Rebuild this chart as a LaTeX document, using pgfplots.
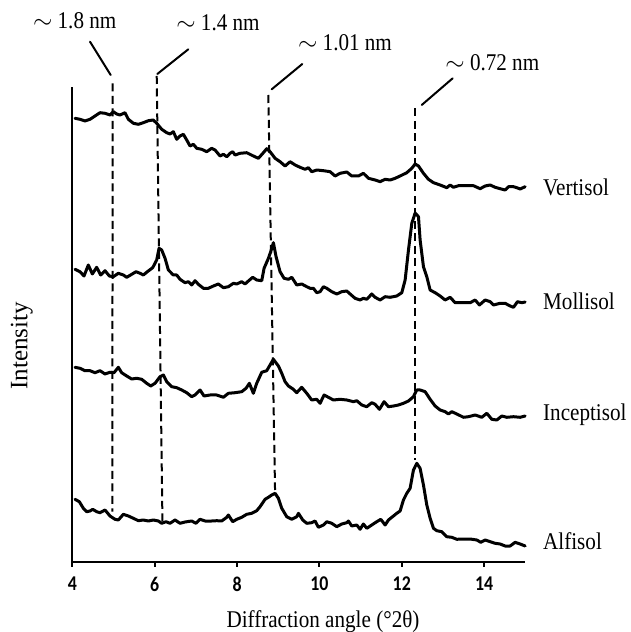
\documentclass[border=0pt]{standalone}
\usepackage{fontspec}
\setmainfont{Liberation Serif}[FakeStretch=0.88]
\newfontfamily\plainserif{Liberation Serif}
\newfontfamily\tickfont{Carlito Bold}[FakeStretch=0.85]
\usepackage{pgfplots}
\pgfplotsset{compat=1.18}
\begin{document}
\begin{tikzpicture}
\useasboundingbox (0,0) rectangle (630pt,632pt);
\begin{axis}[
  at={(72.3pt,70.3pt)}, anchor=south west,
  scale only axis, width=453pt, height=474.4pt,
  xmin=4, xmax=15, ymin=70.3, ymax=544.7,
  axis x line=bottom, axis y line=left,
  axis line style={line width=2pt, -},
  ytick=\empty, xtick={4,6,8,10,12,14},
  tick align=outside, major tick length=5pt,
  tick style={line width=2pt, black},
  /pgf/number format/assume math mode=true,
  xticklabel style={font=\tickfont\fontsize{21}{21}\selectfont, anchor=north, inner sep=0pt, yshift=-10pt},
  xlabel={Diffraction angle (°2θ)},
  xlabel style={font=\fontsize{24}{24}\selectfont, at={(axis description cs:0.5534,-0.1377)}, anchor=base, inner sep=0pt},
  ylabel={Intensity},
  ylabel style={font=\plainserif\fontsize{25}{25}\selectfont, at={(axis description cs:-0.1117,0.4547)}, anchor=center, inner sep=0pt},
  clip=false,
  every axis plot/.append style={line join=round, line cap=round},
]
% dashed guide lines
\addplot[black, line width=2pt, dash pattern=on 8pt off 4.5pt, line cap=butt] coordinates {(4.981,548.7) (4.971,120.3)};
\addplot[black, line width=2pt, dash pattern=on 8pt off 4.5pt, line cap=butt] coordinates {(6.050,556) (6.190,107)};
\addplot[black, line width=2pt, dash pattern=on 8pt off 4.5pt, line cap=butt] coordinates {(8.760,537) (8.923,142)};
\addplot[black, line width=2pt, dash pattern=on 8pt off 4.5pt, line cap=butt] coordinates {(12.32,523.7) (12.32,172)};
% leaders
\addplot[black, line width=2pt] coordinates {(4.430,590.3) (4.932,557)};
\addplot[black, line width=2pt] coordinates {(6.817,582.7) (6.064,558)};
\addplot[black, line width=2pt] coordinates {(9.585,568) (8.842,542.7)};
\addplot[black, line width=2pt] coordinates {(13.237,553.7) (12.485,527)};
% Vertisol
\addplot[black, line width=3pt] coordinates {
(4.066,513.7)(4.187,512.7)(4.308,511.0)(4.430,512.7)(4.551,516.0)(4.673,519.3)(4.794,518.7)(4.916,517.0)(4.997,520.3)(5.078,518.0)
(5.159,517.0)(5.280,519.3)(5.361,512.7)(5.483,508.7)(5.604,507.7)(5.725,509.3)(5.847,511.3)(5.968,512.0)(6.049,508.7)(6.171,502.7)
(6.292,499.3)(6.373,498.0)(6.454,500.3)(6.535,492.7)(6.616,496.0)(6.697,497.7)(6.778,492.0)(6.859,486.0)(6.940,487.7)(7.021,483.7)
(7.142,482.7)(7.264,480.3)(7.385,483.7)(7.466,482.0)(7.588,476.0)(7.669,477.7)(7.750,475.3)(7.831,478.7)(7.895,480.3)(7.952,477.0)
(8.074,478.7)(8.236,479.3)(8.397,476.0)(8.519,473.7)(8.640,479.3)(8.721,483.3)(8.802,480.3)(8.924,473.7)(9.045,470.3)(9.167,466.0)
(9.288,470.3)(9.410,467.0)(9.531,464.7)(9.652,462.7)(9.733,464.3)(9.814,460.3)(9.936,462.0)(10.098,461.3)(10.260,460.3)(10.381,456.0)
(10.503,458.7)(10.665,460.0)(10.786,456.0)(10.948,456.0)(11.069,458.7)(11.191,453.7)(11.353,452.0)(11.474,450.3)(11.596,452.7)(11.717,452.0)
(11.839,453.7)(11.960,456.0)(12.122,459.3)(12.244,463.7)(12.325,468.0)(12.406,466.0)(12.527,458.7)(12.648,452.7)(12.770,449.3)(12.932,447.0)
(13.094,444.3)(13.175,447.0)(13.256,444.7)(13.377,446.3)(13.539,446.3)(13.741,446.3)(13.903,443.3)(14.025,446.0)(14.146,447.0)(14.268,444.7)
(14.389,443.3)(14.510,442.0)(14.592,445.3)(14.713,445.3)(14.794,444.3)(14.875,443.0)(14.996,445.3)};
% Mollisol
\addplot[black, line width=3pt] coordinates {
(4.066,362.7)(4.187,360.3)(4.284,356.0)(4.389,367.0)(4.487,358.0)(4.592,364.7)(4.689,357.0)(4.794,361.3)(4.900,356.0)(4.997,355.3)
(5.118,358.7)(5.240,357.0)(5.321,354.7)(5.442,357.7)(5.547,360.3)(5.645,358.7)(5.725,357.0)(5.823,360.3)(5.952,364.3)(6.049,372.0)
(6.106,383.7)(6.171,382.0)(6.252,373.7)(6.333,362.0)(6.454,357.0)(6.535,357.0)(6.616,352.7)(6.737,349.3)(6.819,350.3)(6.899,347.0)
(6.981,351.3)(7.061,347.7)(7.183,343.7)(7.304,343.7)(7.426,346.0)(7.547,348.0)(7.669,344.3)(7.790,345.3)(7.912,348.7)(7.993,348.0)
(8.114,350.3)(8.195,348.0)(8.276,351.0)(8.381,354.7)(8.478,352.0)(8.600,351.3)(8.657,363.7)(8.762,373.7)(8.818,380.3)(8.883,389.3)
(8.948,375.3)(9.045,360.3)(9.142,353.7)(9.248,352.7)(9.329,354.7)(9.450,347.0)(9.571,348.0)(9.693,345.3)(9.774,343.7)(9.855,343.7)
(9.936,339.3)(10.017,340.3)(10.098,345.3)(10.179,343.7)(10.300,340.3)(10.422,338.0)(10.543,340.3)(10.665,341.0)(10.746,338.0)(10.867,333.7)
(10.988,332.0)(11.069,333.7)(11.150,332.7)(11.272,338.0)(11.353,334.7)(11.474,332.0)(11.596,335.3)(11.717,334.7)(11.879,336.0)(12.001,339.3)
(12.082,352.0)(12.163,382.0)(12.244,408.7)(12.325,419.0)(12.406,415.3)(12.446,392.0)(12.527,365.3)(12.608,355.3)(12.689,342.0)(12.810,339.3)
(12.932,336.0)(13.053,332.0)(13.175,334.7)(13.296,329.3)(13.418,329.3)(13.661,329.3)(13.782,332.0)(13.887,327.0)(14.025,332.0)(14.146,330.3)
(14.227,327.0)(14.389,328.7)(14.510,328.7)(14.632,326.0)(14.713,324.7)(14.810,330.3)(14.915,329.3)(14.996,330.0)};
% Inceptisol
\addplot[black, line width=3pt] coordinates {
(4.066,264.7)(4.187,263.7)(4.308,261.3)(4.430,261.3)(4.551,259.3)(4.673,261.3)(4.794,258.0)(4.916,259.7)(5.013,259.3)(5.118,264.7)
(5.199,259.3)(5.321,256.0)(5.442,253.0)(5.563,253.7)(5.685,252.7)(5.806,248.7)(5.904,246.0)(6.009,248.7)(6.130,255.3)(6.211,257.0)
(6.292,250.3)(6.414,245.3)(6.535,244.3)(6.657,242.0)(6.778,239.3)(6.899,235.3)(6.981,237.0)(7.102,242.0)(7.199,236.0)(7.345,237.0)
(7.507,237.0)(7.669,234.7)(7.790,238.7)(7.952,239.3)(8.114,240.3)(8.219,243.7)(8.300,248.7)(8.397,238.7)(8.478,248.7)(8.600,259.7)
(8.721,261.3)(8.883,272.7)(9.005,266.0)(9.086,258.7)(9.167,250.3)(9.248,246.0)(9.369,242.7)(9.450,239.3)(9.571,244.7)(9.693,238.7)
(9.814,232.0)(9.936,232.7)(10.017,228.7)(10.114,237.0)(10.219,234.7)(10.341,232.0)(10.503,232.7)(10.665,232.0)(10.827,230.3)(10.908,231.3)
(11.029,227.0)(11.150,225.3)(11.272,229.3)(11.353,227.7)(11.458,222.7)(11.571,230.3)(11.677,225.3)(11.798,226.0)(11.920,227.0)(12.041,228.7)
(12.163,231.0)(12.284,235.3)(12.365,242.0)(12.446,242.0)(12.568,240.3)(12.689,232.7)(12.810,226.0)(12.932,222.0)(13.053,220.3)(13.134,218.0)
(13.215,220.3)(13.337,218.0)(13.499,214.7)(13.620,215.3)(13.782,217.0)(13.944,214.7)(14.065,218.7)(14.187,212.7)(14.308,212.0)(14.430,216.0)
(14.551,214.7)(14.713,215.3)(14.875,214.7)(14.996,216.0)};
% Alfisol
\addplot[black, line width=3pt] coordinates {
(4.066,132.7)(4.171,130.3)(4.268,123.7)(4.349,120.3)(4.430,121.0)(4.495,122.7)(4.592,120.3)(4.673,119.3)(4.794,122.0)(4.916,116.0)
(5.037,112.7)(5.118,112.0)(5.240,117.7)(5.361,116.0)(5.483,113.7)(5.604,111.3)(5.725,112.0)(5.847,111.0)(5.968,112.0)(6.090,111.0)
(6.171,108.7)(6.276,110.3)(6.373,108.7)(6.495,112.0)(6.616,108.7)(6.737,110.0)(6.899,111.0)(7.005,108.7)(7.102,112.7)(7.223,111.0)
(7.385,111.0)(7.507,111.3)(7.628,111.0)(7.750,114.7)(7.790,117.0)(7.895,110.3)(7.993,112.7)(8.114,114.7)(8.236,117.7)(8.357,118.7)
(8.478,121.3)(8.559,125.3)(8.681,132.7)(8.762,134.7)(8.843,137.0)(8.924,138.7)(9.005,133.7)(9.086,123.7)(9.207,115.3)(9.329,112.7)
(9.450,115.3)(9.491,118.7)(9.596,112.0)(9.693,108.7)(9.814,109.3)(9.895,111.0)(9.976,104.7)(10.098,107.0)(10.179,110.3)(10.300,108.7)
(10.422,105.3)(10.543,108.0)(10.665,109.3)(10.705,111.0)(10.786,106.0)(10.908,107.0)(10.988,102.7)(11.069,108.0)(11.150,103.7)(11.272,107.0)
(11.393,110.3)(11.490,112.7)(11.596,107.0)(11.677,112.0)(11.798,116.0)(11.879,118.7)(11.960,121.0)(12.041,132.0)(12.122,138.7)(12.203,143.7)
(12.284,162.0)(12.365,168.7)(12.446,163.7)(12.527,147.0)(12.608,127.0)(12.689,113.7)(12.770,103.7)(12.851,101.3)(12.972,100.3)(13.094,95.3)
(13.215,94.7)(13.337,92.7)(13.499,93.0)(13.661,93.0)(13.822,92.0)(13.920,89.7)(14.025,92.0)(14.146,90.3)(14.268,88.7)(14.389,88.0)
(14.510,86.0)(14.632,86.0)(14.753,89.7)(14.875,88.0)(14.996,86.0)};
% labels
\node[anchor=west, inner sep=0pt, font=\fontsize{24}{24}\selectfont] at (axis cs:15.43,445) {Vertisol};
\node[anchor=west, inner sep=0pt, font=\fontsize{24}{24}\selectfont] at (axis cs:15.43,331) {Mollisol};
\node[anchor=west, inner sep=0pt, font=\fontsize{24}{24}\selectfont] at (axis cs:15.43,217) {Inceptisol};
\node[anchor=west, inner sep=0pt, font=\fontsize{24}{24}\selectfont] at (axis cs:15.43,91) {Alfisol};
\node[anchor=base, inner sep=0pt, font=\fontsize{24}{24}\selectfont] at (axis cs:4.058,603.7) {$\sim$ 1.8 nm};
\node[anchor=base, inner sep=0pt, font=\fontsize{24}{24}\selectfont] at (axis cs:7.538,601.3) {$\sim$ 1.4 nm};
\node[anchor=base, inner sep=0pt, font=\fontsize{24}{24}\selectfont] at (axis cs:10.622,581.3) {$\sim$ 1.01 nm};
\node[anchor=base, inner sep=0pt, font=\fontsize{24}{24}\selectfont] at (axis cs:14.199,561.3) {$\sim$ 0.72 nm};
\end{axis}
\end{tikzpicture}
\end{document}
